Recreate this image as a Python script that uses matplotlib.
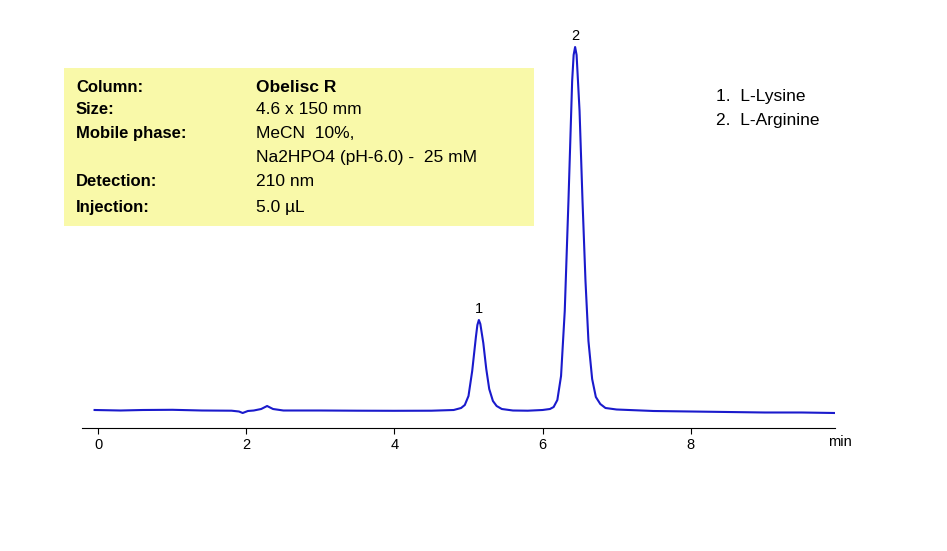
import matplotlib.pyplot as plt
from matplotlib.patches import Rectangle

plt.rcParams['font.family'] = ['Liberation Sans', 'DejaVu Sans']

# chromatogram trace (time in min, signal in arbitrary units)
time = [-0.05, 0.3, 0.6, 1.0, 1.4, 1.8, 1.9, 1.95, 2.02, 2.1, 2.2, 2.28, 2.36, 2.5, 3.0, 3.5,
        4.0, 4.5, 4.8, 4.9, 4.95, 5.0, 5.05, 5.1, 5.12, 5.14, 5.16, 5.2, 5.24, 5.28, 5.33, 5.38,
        5.45, 5.6, 5.8, 6.0, 6.1, 6.15, 6.2, 6.25, 6.3, 6.35, 6.4, 6.42, 6.44, 6.46, 6.5, 6.54,
        6.58, 6.62, 6.67, 6.72, 6.78, 6.85, 7.0, 7.5, 8.0, 8.5, 9.0, 9.5, 9.95]
signal = [1.0, 0.5, 1.0, 1.2, 0.5, 0.3, -0.5, -2.0, 0.0, 0.5, 2.0, 5.0, 2.0, 0.5, 0.5, 0.3,
          0.2, 0.3, 1.0, 3.0, 6.0, 15.0, 40.0, 74.0, 86.0, 91.0, 87.0, 68.0, 42.0, 22.0, 10.0, 5.0,
          2.0, 0.5, 0.3, 1.0, 2.0, 4.0, 11.0, 35.0, 100.0, 210.0, 330.0, 356.0, 364.0, 356.0, 300.0, 210.0,
          130.0, 70.0, 32.0, 14.0, 7.0, 3.0, 1.5, 0.0, -0.5, -1.0, -1.5, -1.5, -2.0]

peak_labels = ['1', '2']
peak_times = [5.14, 6.44]
peak_heights = [91.0, 364.0]

info_keys = ['Column:', 'Size:', 'Mobile phase:', '', 'Detection:', 'Injection:']
info_vals = ['Obelisc R', '4.6 x 150 mm', 'MeCN  10%,', 'Na2HPO4 (pH-6.0) -  25 mM', '210 nm', '5.0 µL']
legend_lines = ['1.  L-Lysine', '2.  L-Arginine']

W, H = 947, 551
fig = plt.figure(figsize=(W / 100, H / 100), dpi=100)
ax = fig.add_axes([82 / W, 1 - 428 / H, (835 - 82) / W, (428 - 30) / H])
ax.plot(time, signal, color='#1a1acc', lw=1.5)
ax.set_xlim(-0.22, 9.95)
ax.set_ylim(-17, 381)
for s in ['top', 'right', 'left']:
    ax.spines[s].set_visible(False)
ax.set_yticks([])
ax.set_xticks([0, 2, 4, 6, 8])
ax.tick_params(axis='x', labelsize=10.5, length=4)
for lab, t, h in zip(peak_labels, peak_times, peak_heights):
    ax.annotate(lab, (t, h), xytext=(0, 3), textcoords='offset points',
                ha='center', va='bottom', fontsize=10.5)


def px(x, y):
    return x / W, 1 - y / H


fig.text(*px(840, 442), 'min', fontsize=10.5, ha='center', va='center')
fig.patches.append(Rectangle(px(64, 226), 470 / W, 158 / H, transform=fig.transFigure,
                             facecolor='#f9f9a9', edgecolor='none', zorder=0))
ys = [87, 110, 134, 158, 182, 207]
for i, (k, v, y) in enumerate(zip(info_keys, info_vals, ys)):
    fig.text(*px(76, y), k, fontsize=12, fontweight='bold', va='center')
    fig.text(*px(256, y), v, fontsize=12.5, va='center',
             fontweight='bold' if i == 0 else 'normal')
for line, y in zip(legend_lines, [97, 120]):
    fig.text(*px(716, y), line, fontsize=12.5, va='center')

fig.savefig('out.png', dpi=100)
